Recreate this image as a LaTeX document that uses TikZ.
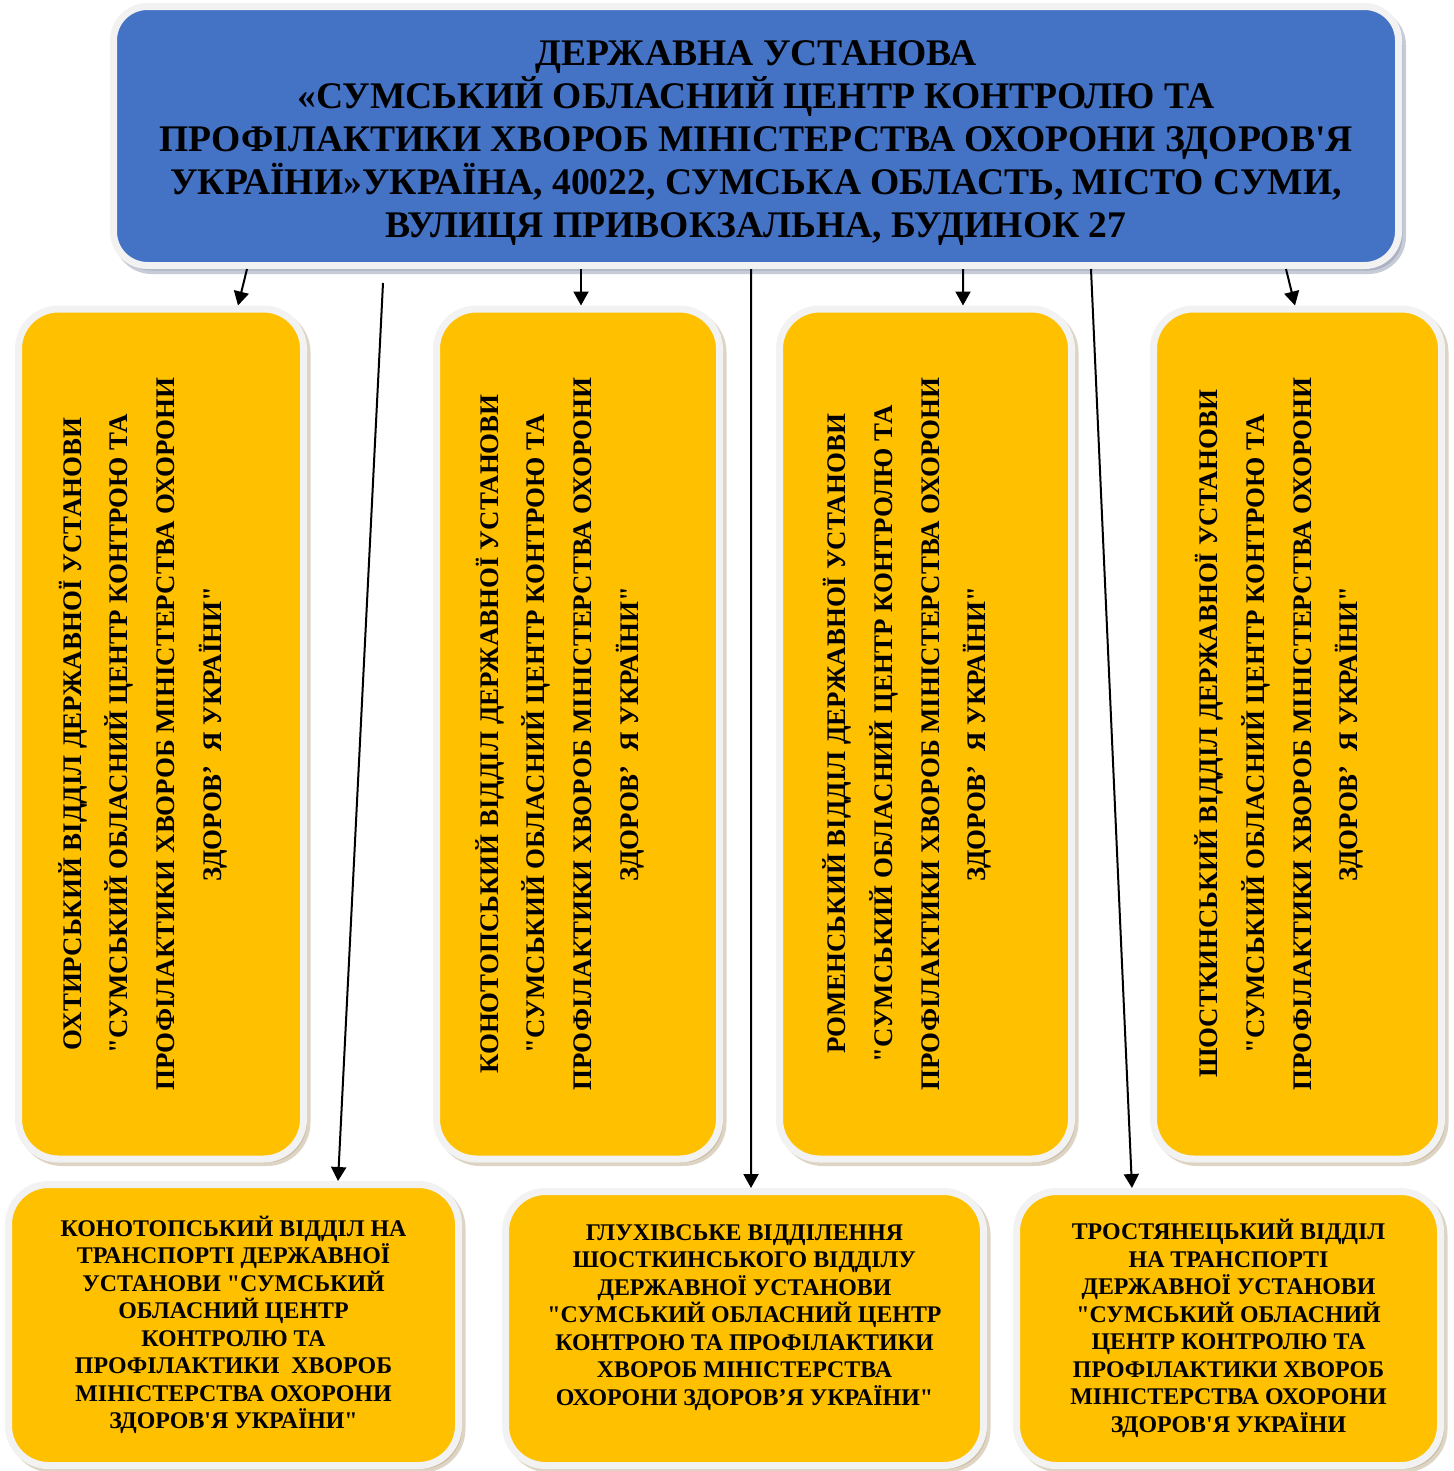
\documentclass[tikz,border=0pt]{standalone}
\usepackage{fontspec}
\setmainfont{Liberation Serif}[Ligatures=TeXOff]
\usepackage{graphicx}
\usetikzlibrary{arrows.meta,shadows}

\definecolor{headblue}{HTML}{4472C4}
\definecolor{deptgold}{HTML}{FFC000}
\definecolor{rimgrey}{HTML}{F2F2F2}
\definecolor{blueshade}{HTML}{8E98AE}
\definecolor{goldshade}{HTML}{BBAA8A}

\newlength\pxu
\setlength\pxu{0.02cm}
% rotated text of the tall boxes, sitting a little left of the middle
\newcommand\sidetext[1]{\rotatebox{90}{\fontsize{15.3}{26.6}\selectfont\bfseries
	\begin{tabular}{@{}c@{}}#1\end{tabular}}\hspace*{38\pxu}}

\tikzset{
	headbox/.style={draw=rimgrey, fill=headblue, line width=7\pxu, rounded corners=34\pxu,
		inner sep=0pt, align=center, font=\fontsize{21.4}{24.4}\selectfont\bfseries,
		minimum width=1285\pxu, minimum height=259\pxu,
		drop shadow={shadow xshift=4\pxu, shadow yshift=-5\pxu, fill=blueshade, draw=blueshade}},
	deptbox/.style={draw=rimgrey, fill=deptgold, line width=7\pxu, rounded corners=40\pxu,
		inner sep=0pt, align=center,
		drop shadow={shadow xshift=3.5\pxu, shadow yshift=-3.5\pxu, fill=goldshade, draw=goldshade}},
	sidebox/.style={deptbox, minimum height=850\pxu},
	lowbox/.style={deptbox, font=\fontsize{13.6}{15.65}\selectfont\bfseries},
	link/.style={->, line width=2\pxu}
}

\begin{document}
\begin{tikzpicture}[x=0.02cm, y=-0.02cm, >={Triangle[length=0.28cm, width=0.3cm]}]
	\useasboundingbox (0,0) rectangle (1454,1471);

	\node [headbox] (centre) at (756,136) {\rule{0pt}{39\pxu}ДЕРЖАВНА УСТАНОВА\\
		«СУМСЬКИЙ ОБЛАСНИЙ ЦЕНТР КОНТРОЛЮ ТА\\
		ПРОФІЛАКТИКИ ХВОРОБ МІНІСТЕРСТВА ОХОРОНИ ЗДОРОВ'Я\\
		УКРАЇНИ»УКРАЇНА, 40022, СУМСЬКА ОБЛАСТЬ, МІСТО СУМИ,\\
		ВУЛИЦЯ ПРИВОКЗАЛЬНА, БУДИНОК 27};

	% tall boxes
	\node [sidebox, minimum width=285\pxu] (okhtyrka) at (161,734) {\sidetext{ОХТИРСЬКИЙ ВІДДІЛ ДЕРЖАВНОЇ УСТАНОВИ\\
		"СУМСЬКИЙ ОБЛАСНИЙ ЦЕНТР КОНТРОЮ ТА\\
		ПРОФІЛАКТИКИ ХВОРОБ МІНІСТЕРСТВА ОХОРОНИ\\
		ЗДОРОВ’~~Я УКРАЇНИ"}};
	\node [sidebox, minimum width=283\pxu] (konotop) at (578,734) {\sidetext{КОНОТОПСЬКИЙ ВІДДІЛ ДЕРЖАВНОЇ УСТАНОВИ\\
		"СУМСЬКИЙ ОБЛАСНИЙ ЦЕНТР КОНТРОЮ ТА\\
		ПРОФІЛАКТИКИ ХВОРОБ МІНІСТЕРСТВА ОХОРОНИ\\
		ЗДОРОВ’~~Я УКРАЇНИ"}};
	\node [sidebox, minimum width=292\pxu] (romny) at (925.5,734) {\sidetext{РОМЕНСЬКИЙ ВІДДІЛ ДЕРЖАВНОЇ УСТАНОВИ\\
		"СУМСЬКИЙ ОБЛАСНИЙ ЦЕНТР КОНТРОЛЮ ТА\\
		ПРОФІЛАКТИКИ ХВОРОБ МІНІСТЕРСТВА ОХОРОНИ\\
		ЗДОРОВ’~~Я УКРАЇНИ"}};
	\node [sidebox, minimum width=288\pxu] (shostka) at (1297.5,734) {\sidetext{ШОСТКИНСЬКИЙ ВІДДІЛ ДЕРЖАВНОЇ УСТАНОВИ\\
		"СУМСЬКИЙ ОБЛАСНИЙ ЦЕНТР КОНТРОЮ ТА\\
		ПРОФІЛАКТИКИ ХВОРОБ МІНІСТЕРСТВА ОХОРОНИ\\
		ЗДОРОВ’~~Я УКРАЇНИ"}};

	% lower row
	\node [lowbox, minimum width=450\pxu, minimum height=281\pxu] (konotrans) at (233.5,1325) {КОНОТОПСЬКИЙ ВІДДІЛ НА\\
		ТРАНСПОРТІ ДЕРЖАВНОЇ\\ УСТАНОВИ "СУМСЬКИЙ\\ ОБЛАСНИЙ ЦЕНТР\\ КОНТРОЛЮ ТА\\
		ПРОФІЛАКТИКИ~ ХВОРОБ\\ МІНІСТЕРСТВА ОХОРОНИ\\ ЗДОРОВ'Я УКРАЇНИ"};
	\node [lowbox, minimum width=478\pxu, minimum height=274\pxu] (glukhiv) at (744.5,1328.5) {ГЛУХІВСЬКЕ ВІДДІЛЕННЯ\\
		ШОСТКИНСЬКОГО ВІДДІЛУ\\ ДЕРЖАВНОЇ УСТАНОВИ\\ "СУМСЬКИЙ ОБЛАСНИЙ ЦЕНТР\\
		КОНТРОЮ ТА ПРОФІЛАКТИКИ\\ ХВОРОБ МІНІСТЕРСТВА\\ ОХОРОНИ ЗДОРОВ’Я УКРАЇНИ"\\ \mbox{}};
	\node [lowbox, minimum width=424\pxu, minimum height=274\pxu] (trost) at (1228.5,1328.5) {ТРОСТЯНЕЦЬКИЙ ВІДДІЛ\\
		НА ТРАНСПОРТІ\\ ДЕРЖАВНОЇ УСТАНОВИ\\ "СУМСЬКИЙ ОБЛАСНИЙ\\ ЦЕНТР КОНТРОЛЮ ТА\\
		ПРОФІЛАКТИКИ ХВОРОБ\\ МІНІСТЕРСТВА ОХОРОНИ\\ ЗДОРОВ'Я УКРАЇНИ};

	\coordinate (gap) at (383,283);

	\draw [link] ([shift={(-509,0)}]centre.south) -- ([shift={(77,0)}]okhtyrka.north);
	\draw [link] (gap) -- ([shift={(104.5,0)}]konotrans.north);
	\draw [link] ([shift={(-175,0)}]centre.south) -- ([shift={(3,0)}]konotop.north);
	\draw [link] ([shift={(-5,0)}]centre.south) -- ([shift={(6.5,0)}]glukhiv.north);
	\draw [link] ([shift={(207,0)}]centre.south) -- ([shift={(37.5,0)}]romny.north);
	\draw [link] ([shift={(335,0)}]centre.south) -- ([shift={(-96.5,0)}]trost.north);
	\draw [link] ([shift={(530,0)}]centre.south) -- ([shift={(-2.5,0)}]shostka.north);
\end{tikzpicture}
\end{document}
